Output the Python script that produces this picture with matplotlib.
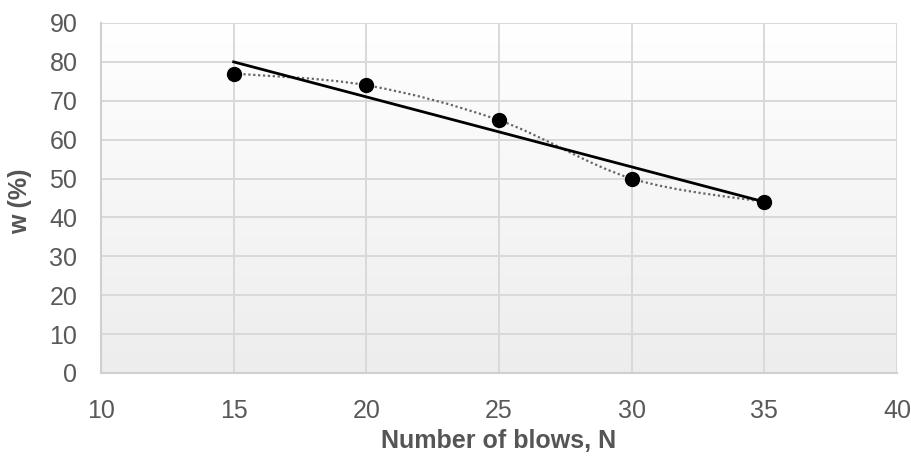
import numpy as np
import matplotlib.pyplot as plt
from matplotlib.path import Path
from matplotlib.patches import PathPatch
from matplotlib.colors import LinearSegmentedColormap
from matplotlib import font_manager

blows = [15, 20, 25, 30, 35]
moisture = [77, 74, 65, 50, 44]
x_ticks = [10, 15, 20, 25, 30, 35, 40]
y_ticks = [0, 10, 20, 30, 40, 50, 60, 70, 80, 90]

names = {f.name for f in font_manager.fontManager.ttflist}
family = "Liberation Sans Narrow" if "Liberation Sans Narrow" in names else "Liberation Sans"
plt.rcParams["font.family"] = [family, "DejaVu Sans"]

fig = plt.figure(figsize=(9.12, 4.57), dpi=100)
ax = fig.add_axes([101 / 912, 1 - 373 / 457, 796 / 912, 350 / 457])

# soft vertical gradient behind the plot area
grad = np.linspace(0, 1, 256).reshape(-1, 1)
ax.imshow(grad, extent=[0, 1, 0, 1], transform=ax.transAxes, aspect="auto",
          cmap=LinearSegmentedColormap.from_list("bg", ["#ededed", "#ffffff"]),
          origin="lower", zorder=0)

ax.set_xlim(10, 40)
ax.set_ylim(0, 90)
ax.set_xticks(x_ticks)
ax.set_yticks(y_ticks)
ax.grid(True, color="#d9d9d9", linewidth=1.4, zorder=1)
for side in ["left", "bottom"]:
    ax.spines[side].set_color("#d0d0d0")
    ax.spines[side].set_linewidth(1.5)
for side in ["top", "right"]:
    ax.spines[side].set_visible(False)
ax.tick_params(length=0, labelsize=18, colors="#595959")
ax.tick_params(axis="x", pad=19)
ax.tick_params(axis="y", pad=17)

# smoothed connector through the points (Catmull-Rom style Bezier segments)
x = np.array(blows, dtype=float)
y = np.array(moisture, dtype=float)
verts = [(x[0], y[0])]
codes = [Path.MOVETO]
n = len(x)
t = 1 / 6
for i in range(n - 1):
    p0 = (x[max(i - 1, 0)], y[max(i - 1, 0)])
    p1 = (x[i], y[i])
    p2 = (x[i + 1], y[i + 1])
    p3 = (x[min(i + 2, n - 1)], y[min(i + 2, n - 1)])
    c1 = (p1[0] + (p2[0] - p0[0]) * t, p1[1] + (p2[1] - p0[1]) * t)
    c2 = (p2[0] - (p3[0] - p1[0]) * t, p2[1] - (p3[1] - p1[1]) * t)
    verts += [c1, c2, p2]
    codes += [Path.CURVE4] * 3
ax.add_patch(PathPatch(Path(verts, codes), facecolor="none", edgecolor="#666666",
                       linewidth=1.6, linestyle=(0, (1, 1.2)), zorder=3))

# linear trendline
slope, intercept = np.polyfit(x, y, 1)
ax.plot([x[0], x[-1]], [slope * x[0] + intercept, slope * x[-1] + intercept],
        color="black", linewidth=2, zorder=4)

ax.plot(blows, moisture, "o", color="black", markersize=10, zorder=5)

ax.set_xlabel("Number of blows, N", fontsize=18, fontweight="bold", color="#555555")
ax.set_ylabel("w (%)", fontsize=18, fontweight="bold", color="#555555")
ax.xaxis.set_label_coords(0.5, -0.16)
ax.yaxis.set_label_coords(-0.087, 0.49)

fig.savefig("out.png", dpi=100)
